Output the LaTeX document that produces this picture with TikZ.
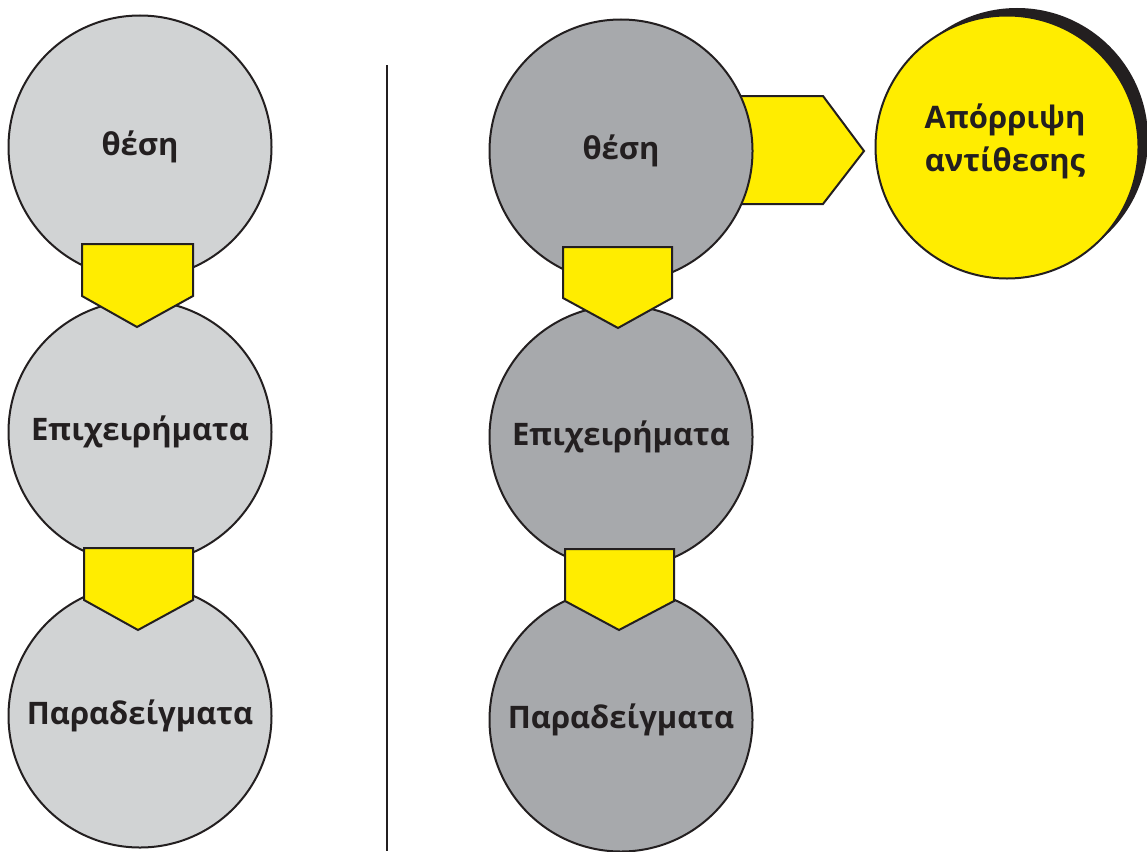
\documentclass[tikz,border=0pt]{standalone}
\usepackage{fontspec}
\setmainfont{Open Sans}
\definecolor{lgray}{HTML}{D1D3D4}
\definecolor{dgray}{HTML}{A7A9AC}
\definecolor{yel}{HTML}{FFED00}
\definecolor{ink}{HTML}{231F20}
\tikzset{
  txt/.style={align=center, font=\fontsize{31}{43}\selectfont\bfseries, text=ink, inner sep=0pt},
  ball/.style={circle, draw=ink, line width=2pt, minimum size=263pt, inner sep=0pt, txt},
  lball/.style={ball, fill=lgray},
  rball/.style={ball, fill=dgray},
  yball/.style={ball, fill=yel},
  arr/.style={draw=ink, fill=yel, line width=2pt, line join=miter},
}
\begin{document}
\begin{tikzpicture}[x=1pt,y=-1pt]
\useasboundingbox (0,0) rectangle (1147,851);
% separator
\draw[ink, line width=2pt] (387,65) -- (387,851);
% left column
\node[lball] (l1) at (140,147) {θέση};
\node[lball] (l2) at (140,432) {Επιχειρήματα};
\node[lball] (l3) at (140,716) {Παραδείγματα};
\draw[arr] (82,244) -- (193,244) -- (193,296) -- (137,327) -- (82,296) -- cycle;
\draw[arr] (84,548) -- (193,548) -- (193,600) -- (138,630) -- (84,600) -- cycle;
% right column
\draw[arr] (720,96) -- (823,96) -- (864,151) -- (823,204) -- (720,204) -- cycle;
\node[rball] (r1) at (621,151) {θέση};
\node[rball] (r2) at (621,437) {Επιχειρήματα};
\node[rball] (r3) at (621,720) {Παραδείγματα};
\draw[arr] (563,247) -- (672,247) -- (672,298) -- (618,328) -- (563,298) -- cycle;
\draw[arr] (565,549) -- (674,549) -- (674,601) -- (619,630) -- (565,601) -- cycle;
% rejection circle
\fill[ink] (1017,139) circle (131);
\node[yball] (y1) at (1007,147) {};
\node[txt] (y1t) at (1005,141) {Απόρριψη\\αντίθεσης};
\end{tikzpicture}
\end{document}
